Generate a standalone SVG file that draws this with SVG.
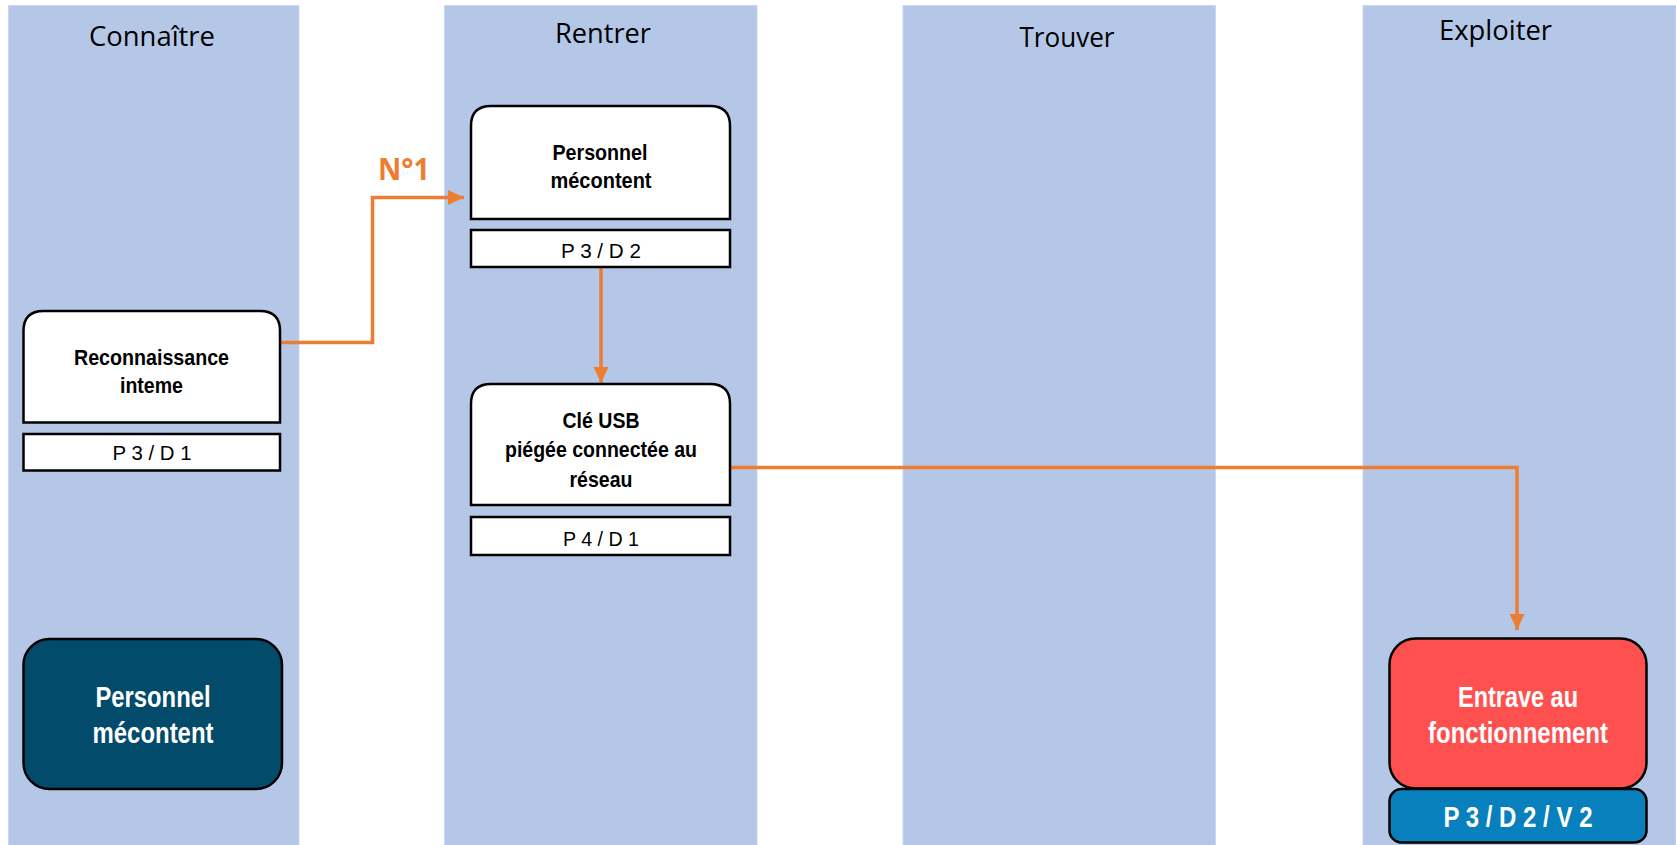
<svg xmlns="http://www.w3.org/2000/svg" width="1676" height="845" viewBox="0 0 1676 845">
<style>
.col{fill:#B4C7E7;stroke:#C9D7F0;stroke-width:1}
.title{font-family:"Open Sans","Liberation Sans",sans-serif;font-size:27px;fill:#000;text-anchor:middle}
.node{fill:#fff;stroke:#000;stroke-width:2.5}
.nt{font-family:"Liberation Sans Narrow","Liberation Sans",Arial,sans-serif;font-weight:bold;font-size:22px;fill:#000;text-anchor:middle}
.st{font-family:"Liberation Sans Narrow","Liberation Sans",Arial,sans-serif;font-size:20px;fill:#000;text-anchor:middle}
.big{font-family:"Liberation Sans Narrow","Liberation Sans",Arial,sans-serif;font-weight:bold;font-size:29px;fill:#fff;text-anchor:middle}
.conn{fill:none;stroke:#ED7D31;stroke-width:3.5}
.lbl{font-family:"Open Sans","Liberation Sans",sans-serif;font-weight:bold;font-size:30px;fill:#ED7D31;text-anchor:middle}
</style>
<defs>
<marker id="arr" markerUnits="userSpaceOnUse" markerWidth="17" markerHeight="16" refX="16" refY="7.5" orient="auto">
<path d="M0,0 L16,7.5 L0,15 z" fill="#ED7D31"/>
</marker>
</defs>
<g id="columns">
<rect class="col" x="8.5" y="5.5" width="290.5" height="845"/>
<rect class="col" x="444.5" y="5.5" width="312.5" height="845"/>
<rect class="col" x="903" y="5.5" width="312.5" height="845"/>
<rect class="col" x="1363" y="5.5" width="313" height="845"/>
<text class="title" x="152" y="45.7" textLength="126" lengthAdjust="spacingAndGlyphs">Connaître</text>
<text class="title" x="603" y="42.8" textLength="96" lengthAdjust="spacingAndGlyphs">Rentrer</text>
<text class="title" x="1067" y="47" textLength="95" lengthAdjust="spacingAndGlyphs">Trouver</text>
<text class="title" x="1495.5" y="39.5" textLength="113" lengthAdjust="spacingAndGlyphs">Exploiter</text>
</g>
<g id="connectors">
<path class="conn" d="M280,342.5 H372.5 V197.5 H464" marker-end="url(#arr)"/>
<text class="lbl" x="404" y="180" textLength="52" lengthAdjust="spacingAndGlyphs">N°1</text>
<path class="conn" d="M601,267 V383" marker-end="url(#arr)"/>
<path class="conn" d="M730,467.5 H1517 V630" marker-end="url(#arr)"/>
</g>
<g id="node-reconnaissance">
<path class="node" d="M23.5,422.5 V331 Q23.5,311 43.5,311 H260 Q280,311 280,331 V422.5 Z"/>
<text class="nt" x="151.5" y="365" textLength="155" lengthAdjust="spacingAndGlyphs">Reconnaissance</text>
<text class="nt" x="151.5" y="392.7" textLength="63" lengthAdjust="spacingAndGlyphs">inteme</text>
</g>
<g id="node-reconnaissance-score">
<rect class="node" x="23.5" y="434" width="256.5" height="36.5"/>
<text class="st" x="152" y="460" textLength="79" lengthAdjust="spacingAndGlyphs">P 3 / D 1</text>
</g>
<g id="node-personnel">
<path class="node" d="M471,219 V126 Q471,106 491,106 H710 Q730,106 730,126 V219 Z"/>
<text class="nt" x="600" y="160" textLength="95" lengthAdjust="spacingAndGlyphs">Personnel</text>
<text class="nt" x="601" y="188.3" textLength="101" lengthAdjust="spacingAndGlyphs">mécontent</text>
</g>
<g id="node-personnel-score">
<rect class="node" x="471" y="230" width="259" height="37"/>
<text class="st" x="601" y="257.5" textLength="80" lengthAdjust="spacingAndGlyphs">P 3 / D 2</text>
</g>
<g id="node-cle-usb">
<path class="node" d="M471,505 V404 Q471,384 491,384 H710 Q730,384 730,404 V505 Z"/>
<text class="nt" x="601" y="428.3" textLength="77" lengthAdjust="spacingAndGlyphs">Clé USB</text>
<text class="nt" x="601" y="457.3" textLength="192" lengthAdjust="spacingAndGlyphs">piégée connectée au</text>
<text class="nt" x="601" y="486.7" textLength="63" lengthAdjust="spacingAndGlyphs">réseau</text>
</g>
<g id="node-cle-usb-score">
<rect class="node" x="471" y="517" width="259" height="38"/>
<text class="st" x="601" y="545.5" textLength="76" lengthAdjust="spacingAndGlyphs">P 4 / D 1</text>
</g>
<g id="node-source">
<rect x="23.5" y="639" width="258.5" height="150" rx="26" ry="26" fill="#034B6A" stroke="#000" stroke-width="2.5"/>
<text class="big" x="153" y="707.3" textLength="115" lengthAdjust="spacingAndGlyphs">Personnel</text>
<text class="big" x="153" y="742.7" textLength="121" lengthAdjust="spacingAndGlyphs">mécontent</text>
</g>
<g id="node-impact">
<rect x="1389.5" y="638.5" width="257" height="150" rx="26" ry="26" fill="#FF5050" stroke="#000" stroke-width="2.5"/>
<text class="big" x="1518" y="706.7" textLength="120" lengthAdjust="spacingAndGlyphs">Entrave au</text>
<text class="big" x="1518" y="742.7" textLength="180" lengthAdjust="spacingAndGlyphs">fonctionnement</text>
</g>
<g id="node-impact-score">
<rect x="1389.5" y="789" width="257" height="53.5" rx="12" ry="12" fill="#0880BE" stroke="#000" stroke-width="2.5"/>
<text class="big" x="1518" y="826.7" font-size="27" textLength="149" lengthAdjust="spacingAndGlyphs">P 3 / D 2 / V 2</text>
</g>
</svg>
